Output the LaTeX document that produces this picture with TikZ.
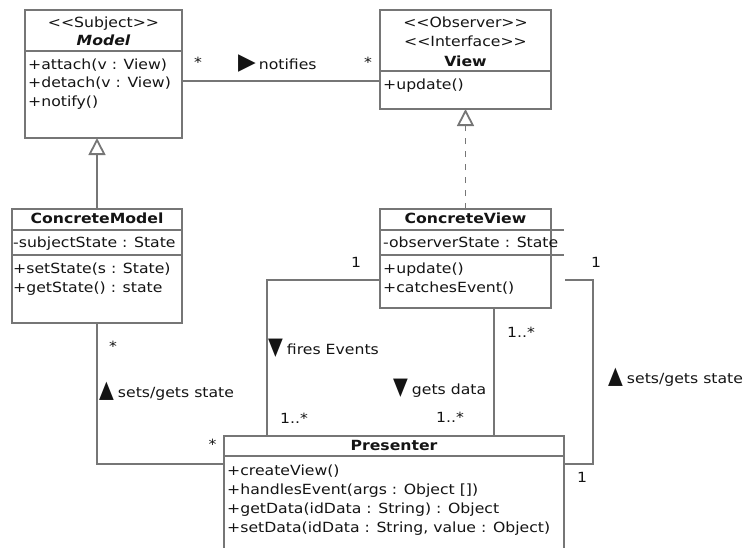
\documentclass[tikz,border=0pt]{standalone}
\usepackage{fontspec}
\setmainfont{DejaVu Sans}[FakeStretch=1.12]
\newfontfamily\vtrifont{DejaVu Sans}[FakeStretch=0.8]
\newfontfamily\htrifont{DejaVu Sans}
\usetikzlibrary{arrows.meta,calc}
\definecolor{linegray}{RGB}{118,118,118}
\definecolor{textdark}{RGB}{20,20,20}
% stereotype with guillemet ligature suppressed
\newcommand\umlst[1]{<\kern0pt<#1>\kern0pt>}
% direction markers in front of an association name
\newcommand\vmark[1]{{\vtrifont\fontsize{24}{24}\selectfont #1}\hspace{4pt}}
\newcommand\hmark[1]{{\htrifont\fontsize{23}{23}\selectfont #1}\hspace{3pt}}

\begin{document}
\begin{tikzpicture}[x=1pt,y=-1pt,
  classbox/.style={draw=linegray, line width=1.8pt, fill=white, rectangle,
    anchor=north west, inner sep=0pt, outer sep=0pt},
  sep/.style={draw=linegray, line width=1.8pt},
  conn/.style={draw=linegray, line width=1.8pt},
  txt/.style={anchor=base west, inner sep=0pt, text=textdark,
    font=\fontsize{14}{19}\selectfont},
  ctxt/.style={txt, anchor=base},
  bt/.style={ctxt, font=\fontsize{14}{19}\selectfont\bfseries},
  inherit/.style={conn, -{Triangle[width=17pt, length=17pt, fill=white]}},
  realize/.style={inherit, dash pattern=on 6pt off 7pt}
]
\useasboundingbox (0,0) rectangle (749,547);
\clip (0,0) rectangle (749,547);

% ---------- Model ----------
\node[classbox, minimum width=157pt, minimum height=128pt] (model) at (25,10) {};
\draw[sep] ($(model.north west)+(0,41)$) -- ($(model.north east)+(0,41)$);
\node[ctxt] (model-st) at (103.5,27) {\umlst{Subject}};
\node[bt, font=\fontsize{14}{19}\selectfont\bfseries\itshape] (model-name) at (103.5,45.5) {Model};
\node[txt] (model-m1) at (28,69) {+attach(v : View)};
\node[txt] (model-m2) at (28,87.5) {+detach(v : View)};
\node[txt] (model-m3) at (28,106) {+notify()};

% ---------- View ----------
\node[classbox, minimum width=171pt, minimum height=99pt] (view) at (380,10) {};
\draw[sep] ($(view.north west)+(0,61)$) -- ($(view.north east)+(0,61)$);
\node[ctxt] (view-st1) at (465.5,27) {\umlst{Observer}};
\node[ctxt] (view-st2) at (465.5,46) {\umlst{Interface}};
\node[bt] (view-name) at (465.5,66) {View};
\node[txt] (view-m1) at (383,89) {+update()};

% ---------- ConcreteModel ----------
\node[classbox, minimum width=170pt, minimum height=114pt] (cmodel) at (12,209) {};
\draw[sep] ($(cmodel.north west)+(0,21)$) -- ($(cmodel.north east)+(0,21)$);
\draw[sep] ($(cmodel.north west)+(0,46)$) -- ($(cmodel.north east)+(0,46)$);
\node[bt] (cmodel-name) at (97,223.5) {ConcreteModel};
\node[txt] (cmodel-a1) at (13,247.5) {-subjectState : State};
\node[txt] (cmodel-m1) at (13,273) {+setState(s : State)};
\node[txt] (cmodel-m2) at (13,292) {+getState() : state};

% ---------- ConcreteView ----------
\node[classbox, minimum width=171pt, minimum height=99pt] (cview) at (380,209) {};
\draw[sep] ($(cview.north west)+(0,21)$) -- ++(184,0);
\draw[sep] ($(cview.north west)+(0,46)$) -- ++(184,0);
\node[bt] (cview-name) at (465.5,223.5) {ConcreteView};
\node[txt] (cview-a1) at (383,247.5) {-observerState : State};
\node[txt] (cview-m1) at (383,273) {+update()};
\node[txt] (cview-m2) at (383,292) {+catchesEvent()};

% ---------- Presenter ----------
\node[classbox, minimum width=340pt, minimum height=140pt] (presenter) at (224,436) {};
\draw[sep] ($(presenter.north west)+(0,20)$) -- ($(presenter.north east)+(0,20)$);
\node[bt] (presenter-name) at (394,450.5) {Presenter};
\node[txt] (presenter-m1) at (227,475) {+createView()};
\node[txt] (presenter-m2) at (227,494) {+handlesEvent(args : Object [])};
\node[txt] (presenter-m3) at (227,513) {+getData(idData : String) : Object};
\node[txt] (presenter-m4) at (227,532) {+setData(idData : String, value : Object)};

% ---------- Connectors ----------
% notifies association
\draw[conn] ($(model.north east)+(0,71)$) -- ($(view.north west)+(0,71)$);
\node[ctxt] (notify-m1) at (198,67) {*};
\node[ctxt] (notify-m2) at (368,67) {*};
\node[txt] (notify-lbl) at (238,69) {\hmark{▶}notifies};

% generalisation and realisation
\draw[inherit] (cmodel.north) -- (cmodel.north |- model.south);
\draw[realize] (cview.north) -- (view.south);

% fires Events
\draw[conn] ($(cview.north west)+(0,71)$) -| ($(presenter.north west)+(43,0)$);
\node[ctxt] (fire-m1) at (356,267) {1};
\node[txt] (fire-lbl) at (268,354) {\vmark{▼}fires Events};
\node[ctxt] (fire-m2) at (294,423) {1..*};

% gets data
\draw[conn] ($(cview.south west)+(114,0)$) -- ($(presenter.north west)+(270,0)$);
\node[ctxt] (data-m1) at (521,337.5) {1..*};
\node[txt] (data-lbl) at (393,394) {\vmark{▼}gets data};
\node[ctxt] (data-m2) at (450,422.5) {1..*};

% sets/gets state (view side)
\coordinate (vstate) at (565,280);
\draw[conn] (vstate) -| ($(presenter.north east)+(29,28)$) -- ($(presenter.north east)+(0,28)$);
\node[ctxt] (vstate-m1) at (596,267.5) {1};
\node[txt] (vstate-lbl) at (608,383) {\vmark{▲}sets/gets state};
\node[ctxt] (vstate-m2) at (582,482) {1};

% sets/gets state (model side)
\draw[conn] (cmodel.south) |- ($(presenter.north west)+(0,28)$);
\node[ctxt] (mstate-m1) at (113,351) {*};
\node[txt] (mstate-lbl) at (99,397) {\vmark{▲}sets/gets state};
\node[ctxt] (mstate-m2) at (212.5,449) {*};
\end{tikzpicture}
\end{document}
